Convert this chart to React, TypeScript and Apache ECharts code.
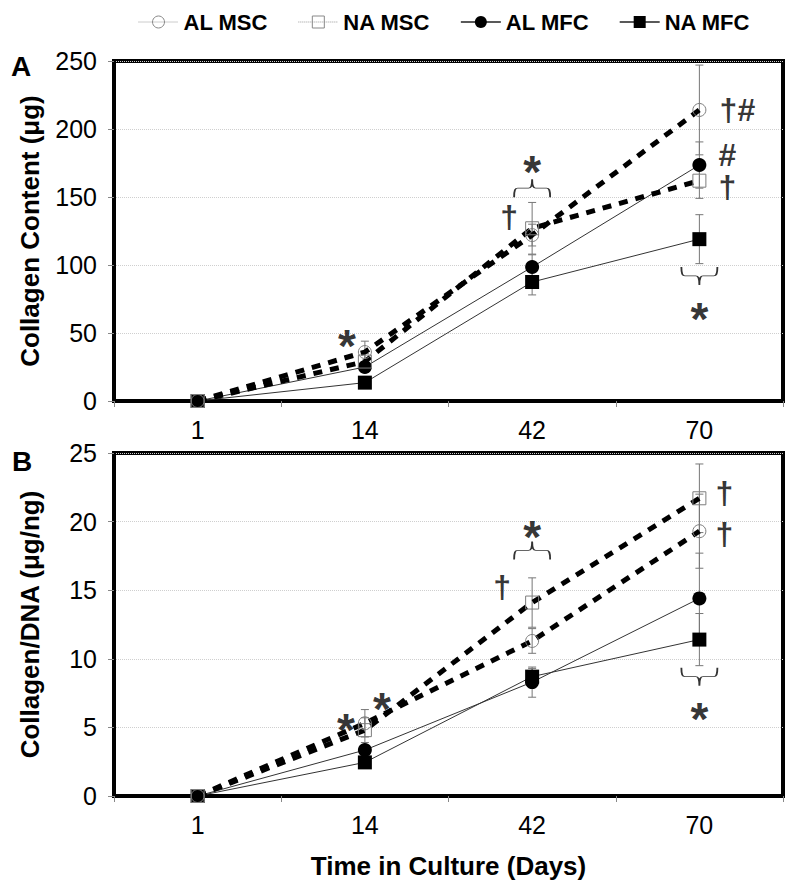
import React, { useEffect, useRef } from 'react';
import * as echarts from 'echarts';

// ---------- data ----------
const days = ['1', '14', '42', '70'];
const seriesNames = ['AL MSC', 'NA MSC', 'AL MFC', 'NA MFC'];

// Panel A: Collagen Content (µg)
const alMscA = [0, 36, 122, 214];
const naMscA = [0, 29, 127, 162];
const alMfcA = [0, 25, 98.5, 173.5];
const naMfcA = [0, 13.5, 87.5, 119];
const alMscErrA = [0, 8, 8, 33];
const naMscErrA = [0, 6, 19, 13];
const alMfcErrA = [0, 4, 9, 17];
const naMfcErrA = [0, 4, 9.5, 18];

// Panel B: Collagen/DNA (µg/ng)
const alMscB = [0, 5.3, 11.3, 19.3];
const naMscB = [0, 4.8, 14.1, 21.7];
const alMfcB = [0, 3.35, 8.3, 14.4];
const naMfcB = [0, 2.45, 8.7, 11.4];
const alMscErrB = [0, 1.0, 0.9, 2.7];
const naMscErrB = [0, 0.9, 1.8, 2.5];
const alMfcErrB = [0, 0.3, 1.1, 3.3];
const naMfcErrB = [0, 0.3, 0.6, 1.9];

const yTicksA = { min: 0, max: 250, interval: 50 };
const yTicksB = { min: 0, max: 25, interval: 5 };

// significance marks: [dayIndex, value, text, xShiftPx]
const marksA: [number, number, string, number][] = [
  [1, 49, '*', -18],
  [2, 177, '*', 0],
  [2, 135, '†', -23],
  [3, 214, '†#', 38],
  [3, 181, '#', 28],
  [3, 157, '†', 28],
  [3, 69, '*', 0],
];
const marksB: [number, number, string, number][] = [
  [1, 5.7, '*', -19],
  [1, 7.2, '*', 17],
  [2, 19.75, '*', 0],
  [2, 15.2, '†', -30],
  [3, 22.1, '†', 25],
  [3, 19.1, '†', 25],
  [3, 6.5, '*', 0],
];
// braces: [dayIndex, value, 'over' | 'under']
const bracesA: [number, number, string][] = [
  [2, 156.5, 'over'],
  [3, 92, 'under'],
];
const bracesB: [number, number, string][] = [
  [2, 17.9, 'over'],
  [3, 8.7, 'under'],
];

// ---------- styles ----------
const FONT = '"Liberation Sans", Arial, Helvetica, sans-serif';
const OVER =
  'path://M0,20 C0,12 3,10 10,10 L40,10 C46,10 50,8 50,0 C50,8 54,10 60,10 L90,10 C97,10 100,12 100,20';
const UNDER =
  'path://M0,0 C0,8 3,10 10,10 L40,10 C46,10 50,12 50,20 C50,12 54,10 60,10 L90,10 C97,10 100,8 100,0';

function lineSeries(name: string, data: number[], gi: number, open: boolean, symbol: string) {
  return {
    name,
    type: 'line',
    xAxisIndex: gi,
    yAxisIndex: gi,
    data,
    symbol,
    symbolSize: open ? 13 : 14,
    z: open ? 4 : 3,
    itemStyle: open
      ? { color: 'rgba(255,255,255,0)', borderColor: '#7d7d7d', borderWidth: 1 }
      : { color: '#000', borderColor: '#000', borderWidth: 0 },
    lineStyle: open
      ? { color: '#000', width: 5, type: [9, 8], cap: 'butt' }
      : { color: '#333', width: 1 },
    emphasis: { disabled: true },
  };
}

function errSeries(gi: number, means: number[], errs: number[]) {
  const data = means
    .map((m, i) => [i, m - errs[i], m + errs[i]])
    .filter((_, i) => errs[i] > 0);
  return {
    type: 'custom',
    xAxisIndex: gi,
    yAxisIndex: gi,
    z: 2,
    silent: true,
    encode: { x: 0, y: [1, 2] },
    data,
    renderItem: (params: any, api: any) => {
      const x = api.value(0);
      const lo = api.coord([x, api.value(1)]);
      const hi = api.coord([x, api.value(2)]);
      const w = 4;
      const st = { stroke: '#777', lineWidth: 1 };
      return {
        type: 'group',
        children: [
          { type: 'line', shape: { x1: lo[0], y1: lo[1], x2: hi[0], y2: hi[1] }, style: st },
          { type: 'line', shape: { x1: lo[0] - w, y1: lo[1], x2: lo[0] + w, y2: lo[1] }, style: st },
          { type: 'line', shape: { x1: hi[0] - w, y1: hi[1], x2: hi[0] + w, y2: hi[1] }, style: st },
        ],
      };
    },
  };
}

function markSeries(gi: number, list: [number, number, string, number][]) {
  return {
    type: 'scatter',
    xAxisIndex: gi,
    yAxisIndex: gi,
    symbolSize: 1,
    silent: true,
    z: 6,
    itemStyle: { color: 'rgba(0,0,0,0)' },
    data: list.map((m) => ({
      value: [m[0], m[1]],
      label: {
        show: true,
        position: 'inside',
        formatter: m[2],
        offset: [m[3], m[2] === '*' ? 12 : 0],
        fontSize: m[2] === '*' ? 46 : 32,
        fontWeight: 'bold',
        color: '#000',
        textBorderWidth: 0,
        textBorderColor: 'transparent',
        fontFamily: FONT,
      },
    })),
  };
}

function braceSeries(gi: number, list: [number, number, string][]) {
  return {
    type: 'scatter',
    xAxisIndex: gi,
    yAxisIndex: gi,
    silent: true,
    z: 6,
    symbolSize: [36, 18],
    itemStyle: { color: 'rgba(0,0,0,0)', borderColor: '#000', borderWidth: 1.3 },
    data: list.map((b) => ({ value: [b[0], b[1]], symbol: b[2] === 'over' ? OVER : UNDER })),
  };
}

function xAxis(gi: number, withName: boolean) {
  return {
    type: 'category',
    gridIndex: gi,
    data: days,
    boundaryGap: true,
    axisLine: { show: true, lineStyle: { color: '#000', width: 4 } },
    axisTick: { show: true, length: 6, lineStyle: { color: '#888' } },
    axisLabel: { fontSize: 25, color: '#000', margin: 16, fontFamily: FONT },
    splitLine: { show: false },
    name: withName ? 'Time in Culture (Days)' : '',
    nameLocation: 'middle',
    nameGap: 57,
    nameTextStyle: { fontSize: 26, fontWeight: 'bold', color: '#000', fontFamily: FONT },
  };
}

function yAxis(gi: number, ticks: any, name: string) {
  return {
    type: 'value',
    gridIndex: gi,
    ...ticks,
    axisLine: { show: true, lineStyle: { color: '#000', width: 4 } },
    axisTick: { show: true, length: 6, lineStyle: { color: '#888' } },
    axisLabel: { fontSize: 25, color: '#000', margin: 17, fontFamily: FONT },
    splitLine: { show: true, lineStyle: { color: '#cfcfcf', type: 'dotted', width: 1 } },
    name,
    nameLocation: 'middle',
    nameGap: 71,
    nameTextStyle: { fontSize: 26, fontWeight: 'bold', color: '#000', fontFamily: FONT },
  };
}

const legendStyles: any = {
  'AL MSC': {
    itemStyle: { color: 'rgba(255,255,255,0)', borderColor: '#888', borderWidth: 1 },
    lineStyle: { color: '#999', width: 1, type: 'dotted' },
  },
  'NA MSC': {
    itemStyle: { color: 'rgba(255,255,255,0)', borderColor: '#888', borderWidth: 1 },
    lineStyle: { color: '#999', width: 1, type: 'dotted' },
  },
  'AL MFC': { itemStyle: { color: '#000' }, lineStyle: { color: '#222', width: 1.5, type: 'solid' } },
  'NA MFC': { itemStyle: { color: '#000' }, lineStyle: { color: '#222', width: 1.5, type: 'solid' } },
};

const option: any = {
  animation: false,
  backgroundColor: '#fff',
  textStyle: { fontFamily: FONT },
  legend: {
    left: 133,
    top: 6,
    itemWidth: 40,
    itemHeight: 15,
    itemGap: 30,
    textStyle: { fontSize: 22, fontWeight: 'bold', color: '#000', fontFamily: FONT },
    data: seriesNames.map((n) => ({ name: n, ...legendStyles[n] })),
  },
  grid: [
    { left: 114, top: 61, width: 669, height: 340, show: true, borderColor: '#000', borderWidth: 4 },
    { left: 114, top: 453, width: 669, height: 343, show: true, borderColor: '#000', borderWidth: 4 },
  ],
  xAxis: [xAxis(0, false), xAxis(1, true)],
  yAxis: [yAxis(0, yTicksA, 'Collagen Content (μg)'), yAxis(1, yTicksB, 'Collagen/DNA (μg/ng)')],
  graphic: [
    { type: 'text', left: 11, top: 52, style: { text: 'A', fontSize: 28, fontWeight: 'bold', fill: '#000', fontFamily: FONT } },
    { type: 'text', left: 12, top: 447, style: { text: 'B', fontSize: 28, fontWeight: 'bold', fill: '#000', fontFamily: FONT } },
  ],
  series: [
    errSeries(0, alMscA, alMscErrA),
    errSeries(0, naMscA, naMscErrA),
    errSeries(0, alMfcA, alMfcErrA),
    errSeries(0, naMfcA, naMfcErrA),
    errSeries(1, alMscB, alMscErrB),
    errSeries(1, naMscB, naMscErrB),
    errSeries(1, alMfcB, alMfcErrB),
    errSeries(1, naMfcB, naMfcErrB),
    lineSeries('AL MFC', alMfcA, 0, false, 'circle'),
    lineSeries('NA MFC', naMfcA, 0, false, 'rect'),
    lineSeries('AL MSC', alMscA, 0, true, 'circle'),
    lineSeries('NA MSC', naMscA, 0, true, 'rect'),
    lineSeries('AL MFC', alMfcB, 1, false, 'circle'),
    lineSeries('NA MFC', naMfcB, 1, false, 'rect'),
    lineSeries('AL MSC', alMscB, 1, true, 'circle'),
    lineSeries('NA MSC', naMscB, 1, true, 'rect'),
    markSeries(0, marksA),
    markSeries(1, marksB),
    braceSeries(0, bracesA),
    braceSeries(1, bracesB),
  ],
};

export default function App() {
  const ref = useRef<HTMLDivElement>(null);
  useEffect(() => {
    const chart = echarts.init(ref.current!, null, { renderer: 'svg' });
    chart.setOption(option);
    return () => chart.dispose();
  }, []);
  return (
    <div
      ref={ref}
      style={{ position: 'absolute', left: 0, top: 0, width: 800, height: 890 }}
    />
  );
}
